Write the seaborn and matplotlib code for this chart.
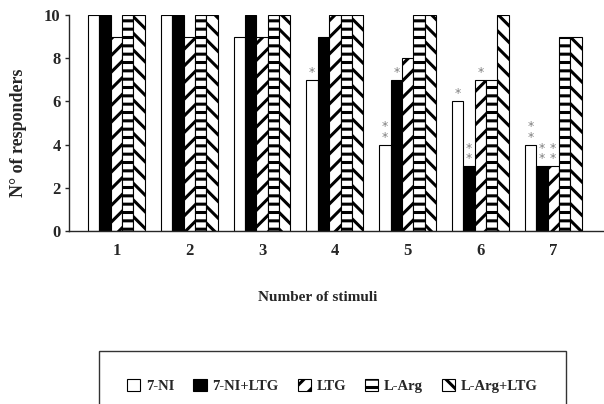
import matplotlib
matplotlib.use("Agg")
import matplotlib.pyplot as plt
import seaborn as sns
import pandas as pd
import numpy as np

stimuli = ["1", "2", "3", "4", "5", "6", "7"]
groups = ["7-NI", "7-NI+LTG", "LTG", "L-Arg", "L-Arg+LTG"]
v_7ni = [10, 10, 9, 7, 4, 6, 4]
v_7ni_ltg = [10, 10, 10, 9, 7, 3, 3]
v_ltg = [9, 9, 9, 10, 8, 7, 3]
v_larg = [10, 10, 10, 10, 10, 7, 9]
v_larg_ltg = [10, 10, 10, 10, 10, 10, 9]
# significance marks per group, per stimulus
stars_7ni = ["", "", "", "*", "**", "*", "**"]
stars_7ni_ltg = ["", "", "", "", "*", "**", "**"]
stars_ltg = ["", "", "", "", "", "*", "**"]
stars_larg = [""] * 7
stars_larg_ltg = [""] * 7

series = [v_7ni, v_7ni_ltg, v_ltg, v_larg, v_larg_ltg]
stars = [stars_7ni, stars_7ni_ltg, stars_ltg, stars_larg, stars_larg_ltg]

df = pd.DataFrame({
    "stim": np.tile(stimuli, len(groups)),
    "group": np.repeat(groups, len(stimuli)),
    "value": np.concatenate(series),
})

sns.set_style("white")
plt.rcParams["font.family"] = ["Liberation Serif", "DejaVu Serif"]
plt.rcParams["font.weight"] = "bold"
plt.rcParams["hatch.linewidth"] = 2.2

W, H = 604, 404
fig = plt.figure(figsize=(W / 100, H / 100), dpi=100)
ax_l, ax_r, ax_t, ax_b = 69, 604, 15, 231
ax = fig.add_axes([ax_l / W, 1 - ax_b / H, (ax_r - ax_l) / W, (ax_b - ax_t) / H])

palette = ["white", "black", "white", "white", "white"]
sns.barplot(data=df, x="stim", y="value", hue="group", hue_order=groups,
            palette=palette, width=0.78, edgecolor="black", linewidth=0.8,
            saturation=1, ax=ax, legend=False)

hatches = ["", "", "//", "--", "\\\\"]
for cont, h, gs in zip(ax.containers, hatches, stars):
    for bar, s in zip(cont, gs):
        bar.set_hatch(h)
        if s:
            x = bar.get_x() + bar.get_width() / 2
            y = bar.get_height()
            ax.text(x, y + 0.05, "\n".join(s), ha="center", va="bottom",
                    fontsize=9, color="#808080", fontweight="normal",
                    family="DejaVu Sans", linespacing=0.75)

ax.set_xlim(-0.652, 6.697)
ax.set_ylim(0, 10)
ax.set_yticks([0, 2, 4, 6, 8, 10])
sns.despine(ax=ax)
ax.spines["left"].set_linewidth(1.0)
ax.spines["bottom"].set_linewidth(1.0)
ax.tick_params(axis="y", direction="out", length=3, width=1, labelsize=12, left=True, pad=3)
ax.tick_params(axis="x", length=0, labelsize=12, pad=9)
for lab in ax.get_xticklabels() + ax.get_yticklabels():
    lab.set_fontweight("bold")
ax.set_xlabel("Number of stimuli", fontsize=11, fontweight="bold")
ax.xaxis.set_label_coords((318 - ax_l) / (ax_r - ax_l), -(291 - ax_b) / (ax_b - ax_t))
ax.xaxis.label.set_va("top")
ax.set_ylabel("N° of responders", fontsize=13, fontweight="bold")
ax.yaxis.set_label_coords(-(ax_l - 27) / (ax_r - ax_l), (ax_b - 133) / (ax_b - ax_t))

handles = [plt.Rectangle((0, 0), 1, 1, facecolor=palette[i], edgecolor="black",
                         hatch=hatches[i], linewidth=0.8) for i in range(5)]
leg = fig.legend(handles, groups, loc="upper center",
                 bbox_to_anchor=(332.5 / W, 1 - 344 / H), ncol=5,
                 frameon=True, fancybox=False, edgecolor="black",
                 prop={"weight": "bold", "size": 10.5, "family": "Liberation Serif"},
                 handlelength=0.9, handleheight=0.9, handletextpad=0.4,
                 columnspacing=1.3, borderpad=1.9)
leg.get_frame().set_linewidth(1.0)

fig.savefig("out.png", dpi=100)
